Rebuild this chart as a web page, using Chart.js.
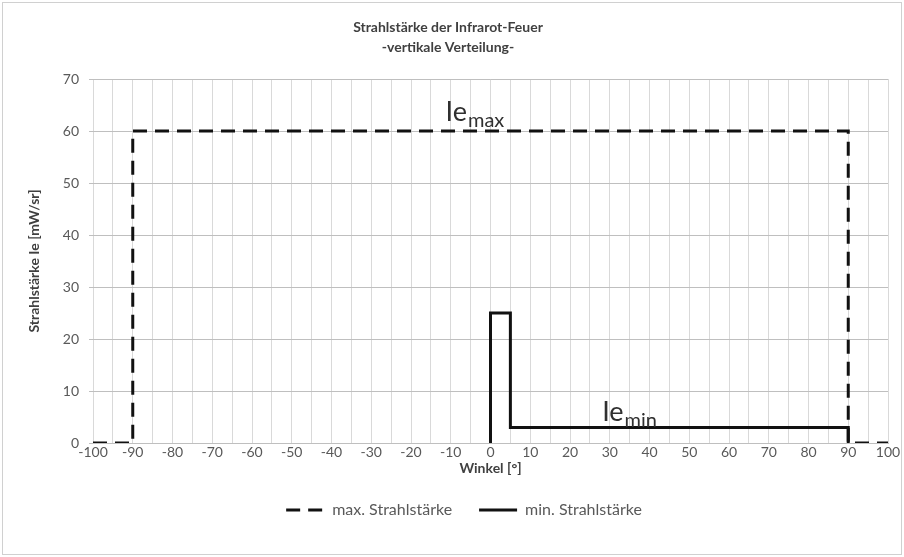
<!DOCTYPE html>
<html lang="de">
<head>
    <meta charset="UTF-8">
    <title>Strahlstärke der Infrarot-Feuer</title>
    <style>
        html, body { margin: 0; padding: 0; background: #fff; }
        #wrap { width: 904px; height: 557px; }
    </style>
    <script src="https://cdn.jsdelivr.net/npm/chart.js"></script>
</head>
<body>
    <div id="wrap"><canvas id="myChart" width="904" height="557"></canvas></div>
    <script>
        // Kurvenpunkte (Winkel in Grad, Strahlstärke in mW/sr)
        const maxWinkel = [-100, -90, -90, 90, 90, 100];
        const maxWerte  = [0, 0, 60, 60, 0, 0];
        const minWinkel = [0, 0, 5, 5, 90, 90];
        const minWerte  = [0, 25, 25, 3, 3, 0];

        const seriesNames = ['max. Strahlstärke', 'min. Strahlstärke'];
        const titleLines = ['Strahlstärke der Infrarot-Feuer', '-vertikale Verteilung-'];
        const xTicks = [-100, 100, 5];   // min, max, step (labels every 10)
        const yTicks = [0, 70, 10];

        const FONT = 'Lato, "Open Sans", sans-serif';

        function toPoints(xs, ys) {
            return xs.map((x, i) => ({ x: x, y: ys[i] }));
        }

        // Rahmen um das ganze Diagramm
        const frame = {
            id: 'frame',
            beforeDraw(chart) {
                const ctx = chart.ctx;
                ctx.save();
                ctx.fillStyle = '#fff';
                ctx.fillRect(0, 0, chart.width, chart.height);
                ctx.strokeStyle = '#d0d0d0';
                ctx.lineWidth = 1;
                ctx.strokeRect(2.5, 2.5, chart.width - 5, chart.height - 5);
                ctx.restore();
            }
        };

        // Legende etwas nach rechts, wie im Original
        const legendShift = {
            id: 'legendShift',
            afterLayout(chart) {
                if (chart.legend) {
                    chart.legend.left += 16;
                    chart.legend.right += 16;
                }
            }
        };

        // Beschriftungen Ie_max / Ie_min
        const curveLabels = {
            id: 'curveLabels',
            afterDatasetsDraw(chart) {
                const xs = chart.scales.x, ys = chart.scales.y, ctx = chart.ctx;
                const labels = [['max', -11.3, 61.9], ['min', 28.1, 4.2]];
                ctx.save();
                ctx.fillStyle = '#303030';
                ctx.textBaseline = 'alphabetic';
                ctx.textAlign = 'left';
                labels.forEach(([sub, vx, vy]) => {
                    const px = xs.getPixelForValue(vx);
                    const py = ys.getPixelForValue(vy);
                    ctx.font = '27px ' + FONT;
                    ctx.fillText('Ie', px, py);
                    const w = ctx.measureText('Ie').width;
                    ctx.font = '20px ' + FONT;
                    ctx.fillText(sub, px + w + 1, py + 6);
                });
                ctx.restore();
            }
        };

        const ctx = document.getElementById('myChart').getContext('2d');
        const myChart = new Chart(ctx, {
            type: 'line',
            data: {
                datasets: [{
                    label: seriesNames[0],
                    data: toPoints(maxWinkel, maxWerte),
                    borderColor: '#111',
                    borderWidth: 3,
                    borderDash: [14, 8],
                    pointRadius: 0,
                    fill: false,
                    tension: 0
                }, {
                    label: seriesNames[1],
                    data: toPoints(minWinkel, minWerte),
                    borderColor: '#111',
                    borderWidth: 3,
                    pointRadius: 0,
                    fill: false,
                    tension: 0
                }]
            },
            options: {
                responsive: false,
                animation: false,
                layout: { padding: { left: 8, right: 16, top: 0, bottom: 29 } },
                scales: {
                    x: {
                        type: 'linear',
                        min: xTicks[0],
                        max: xTicks[1],
                        ticks: {
                            stepSize: xTicks[2],
                            autoSkip: false,
                            maxRotation: 0,
                            color: '#595959',
                            font: { family: FONT, size: 14, lineHeight: 1 },
                            padding: 2,
                            callback: v => (v % 10 === 0 ? String(v) : '')
                        },
                        grid: { color: '#d9d9d9', drawTicks: false },
                        border: { color: '#bfbfbf' },
                        title: {
                            display: true,
                            text: 'Winkel [°]',
                            color: '#404040',
                            font: { family: FONT, size: 14, weight: 'bold', lineHeight: 1 },
                            padding: { top: 0, bottom: 0 }
                        }
                    },
                    y: {
                        min: yTicks[0],
                        max: yTicks[1],
                        ticks: {
                            stepSize: yTicks[2],
                            color: '#595959',
                            font: { family: FONT, size: 14 },
                            padding: 10
                        },
                        grid: { color: '#bfbfbf', tickLength: 4 },
                        border: { display: false },
                        title: {
                            display: true,
                            text: 'Strahlstärke Ie [mW/sr]',
                            color: '#404040',
                            font: { family: FONT, size: 14, weight: 'bold' },
                            padding: { top: 18, bottom: 0 }
                        },
                        afterFit: s => { s.width = 85; }
                    }
                },
                plugins: {
                    title: {
                        display: true,
                        text: titleLines,
                        color: '#404040',
                        font: { family: FONT, size: 14, weight: 'bold', lineHeight: '20px' },
                        padding: { top: 17, bottom: 22 }
                    },
                    legend: {
                        position: 'bottom',
                        labels: {
                            usePointStyle: true,
                            pointStyle: 'line',
                            pointStyleWidth: 38,
                            color: '#595959',
                            font: { family: FONT, size: 16 },
                            padding: 27,
                            generateLabels(chart) {
                                const items = Chart.defaults.plugins.legend.labels.generateLabels(chart);
                                items.forEach(item => {
                                    const ds = chart.data.datasets[item.datasetIndex];
                                    item.lineDash = ds.borderDash || [];
                                    item.lineWidth = ds.borderWidth;
                                    item.strokeStyle = ds.borderColor;
                                });
                                return items;
                            }
                        }
                    },
                    tooltip: { enabled: false }
                }
            },
            plugins: [frame, legendShift, curveLabels]
        });
    </script>
</body>
</html>
